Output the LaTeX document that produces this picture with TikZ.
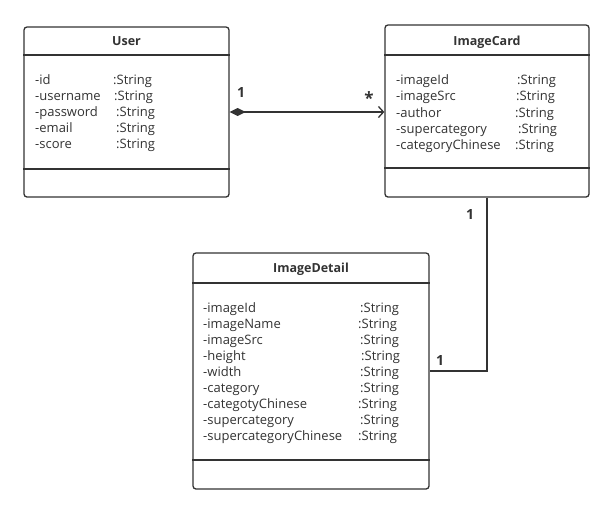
\documentclass[tikz,border=0pt]{standalone}
\usepackage{fontspec}
\setmainfont{Open Sans}
\usepackage{xcolor}
\usepackage{tikz}
\usetikzlibrary{arrows.meta}
\definecolor{linec}{HTML}{333333}

\begin{document}
\begin{tikzpicture}[x=1pt, y=-1pt,
  cls/.style={draw=linec, line width=1.3pt, rounded corners=3pt, inner sep=0pt},
  sep/.style={draw=linec, line width=1.3pt},
  title/.style={font=\bfseries\fontsize{12.5}{14}\selectfont, text=linec},
  attr/.style={anchor=west, inner sep=0pt, text height=10pt, text depth=3pt,
    font=\fontsize{13}{15}\selectfont, text=linec},
  mult/.style={font=\bfseries\fontsize{14}{16}\selectfont, text=linec},
  link/.style={draw=linec, line width=1.3pt}]
  \useasboundingbox[fill=white] (0,0) rectangle (614,515);

  % class boxes
  \node (user) [cls, minimum width=205pt, minimum height=170pt] at (126.5,112) {};
  \node (card) [cls, minimum width=204pt, minimum height=172pt] at (487,111) {};
  \node (detail) [cls, minimum width=236pt, minimum height=236pt] at (311,371) {};

  \draw[sep] (user.west |- 0,55) -- (user.east |- 0,55);
  \draw[sep] (user.west |- 0,169) -- (user.east |- 0,169);
  \draw[sep] (card.west |- 0,55) -- (card.east |- 0,55);
  \draw[sep] (card.west |- 0,168) -- (card.east |- 0,168);
  \draw[sep] (detail.west |- 0,283) -- (detail.east |- 0,283);
  \draw[sep] (detail.west |- 0,460) -- (detail.east |- 0,460);

  % titles
  \node (usertitle) [title] at (user.north |- 0,41) {User};
  \node (cardtitle) [title] at (card.north |- 0,42) {ImageCard};
  \node (detailtitle) [title] at (detail.north |- 0,269) {ImageDetail};

  % attributes
  \foreach \a/\x [count=\i] in {id/113, username/114, password/116, email/116, score/116} {
    \node (uname\i) [attr] at (35,65+16*\i) {-\a};
    \node (utype\i) [attr] at (\x,65+16*\i) {:String};
  }
  \foreach \a/\x [count=\i] in {imageId/517, imageSrc/516, author/515, supercategory/518, categoryChinese/515} {
    \node (cname\i) [attr] at (396,65+16.2*\i) {-\a};
    \node (ctype\i) [attr] at (\x,65+16.2*\i) {:String};
  }
  \foreach \a/\x [count=\i] in {imageId/360, imageName/358, imageSrc/360, height/361, width/360,
      category/360, categotyChinese/358, supercategory/360, supercategoryChinese/358} {
    \node (dname\i) [attr] at (203,293+16*\i) {-\a};
    \node (dtype\i) [attr] at (\x,293+16*\i) {:String};
  }

  % associations
  \draw[link, {Diamond[length=16pt, width=8pt]}-{Straight Barb[length=5pt, width=11pt]}]
    (user.east) -- (user.east -| card.west);
  \draw[link] (card.south) |- (detail.east);

  \node (m1) [mult] at (241,92) {1};
  \node (m2) [mult, font=\bfseries\fontsize{17}{19}\selectfont] at (369,98) {*};
  \node (m3) [mult] at (470,214) {1};
  \node (m4) [mult] at (440,360) {1};
\end{tikzpicture}
\end{document}
